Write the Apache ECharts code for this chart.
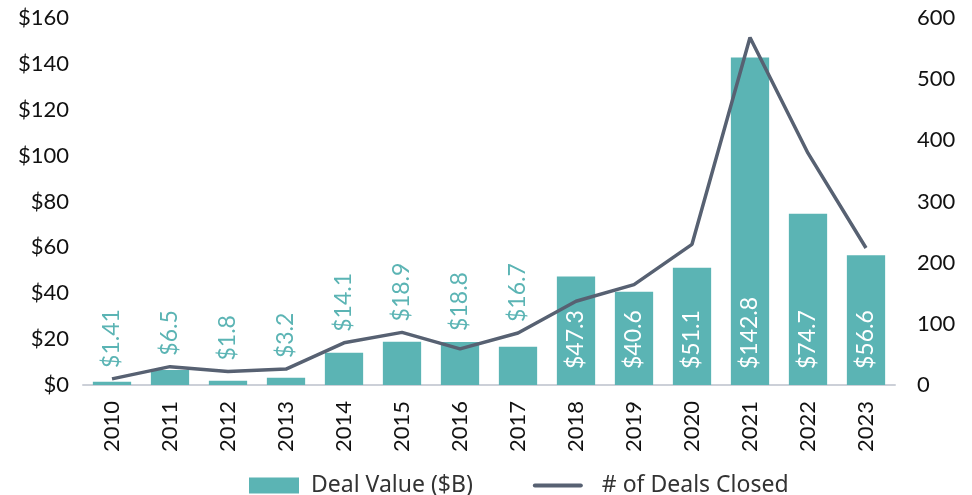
<!DOCTYPE html>
<html><head><meta charset="utf-8">
<script src="https://cdn.jsdelivr.net/npm/echarts@6/dist/echarts.min.js"></script>
<style>html,body{margin:0;padding:0;background:#fff}#c{width:972px;height:495px}</style>
</head><body><div id="c"></div>
<script>
const categories = ['2010','2011','2012','2013','2014','2015','2016','2017','2018','2019','2020','2021','2022','2023'];
const dealValue = [1.41, 6.5, 1.8, 3.2, 14.1, 18.9, 18.8, 16.7, 47.3, 40.6, 51.1, 142.8, 74.7, 56.6];
const dealLabels = ['$1.41','$6.5','$1.8','$3.2','$14.1','$18.9','$18.8','$16.7','$47.3','$40.6','$51.1','$142.8','$74.7','$56.6'];
const dealsClosed = [10, 30, 22, 26, 69, 86, 59, 85, 137, 164, 230, 568, 379, 224];
const leftTicks = [0, 20, 40, 60, 80, 100, 120, 140, 160];
const rightTicks = [0, 100, 200, 300, 400, 500, 600];

const TEAL = '#5BB4B4', LINE = '#576172', FONT = 'Lato';

function buildBarData(distances) {
  return dealValue.map((v, i) => {
    const inside = v > 30;
    return {
      value: v,
      label: inside
        ? {position: 'insideBottom', rotate: 90, align: 'left', verticalAlign: 'middle', distance: 16, color: '#fff'}
        : {position: 'top', rotate: 90, align: 'left', verticalAlign: 'middle', distance: distances ? distances[i] : 12, color: TEAL}
    };
  });
}

const chart = echarts.init(document.getElementById('c'));
chart.setOption({
  animation: false,
  grid: {left: 83, right: 77, top: 18, bottom: 110, containLabel: false},
  legend: {
    top: 469, left: 244, itemGap: 60, itemWidth: 50, itemHeight: 16,
    textStyle: {fontFamily: 'Noto Sans', fontSize: 23, color: '#333', padding: [0, 0, 0, 7]},
    data: [
      {name: 'Deal Value ($B)', icon: 'rect'},
      {name: '# of Deals Closed', icon: 'path://M2,6 L48,6 A2,2 0 0 1 48,10 L2,10 A2,2 0 0 1 2,6 Z',
       itemStyle: {color: LINE}, textStyle: {padding: [0, 0, 0, 14]}}
    ]
  },
  xAxis: {
    type: 'category', data: categories,
    axisLine: {lineStyle: {color: '#CCD0D8', width: 2}},
    axisTick: {show: false},
    axisLabel: {rotate: 90, fontFamily: FONT, fontSize: 22, color: '#111', margin: 16, interval: 0}
  },
  yAxis: [
    {type: 'value', min: 0, max: 160, interval: 20,
     splitLine: {show: false}, axisLine: {show: false}, axisTick: {show: false},
     axisLabel: {formatter: v => '$' + v, fontFamily: FONT, fontSize: 22, color: '#111', margin: 14}},
    {type: 'value', min: 0, max: 600, interval: 100,
     splitLine: {show: false}, axisLine: {show: false}, axisTick: {show: false},
     axisLabel: {fontFamily: FONT, fontSize: 22, color: '#111', margin: 22}}
  ],
  series: [
    {name: 'Deal Value ($B)', type: 'bar', yAxisIndex: 0, data: buildBarData(null),
     barCategoryGap: '34%', itemStyle: {color: TEAL},
     label: {show: true, fontFamily: FONT, fontSize: 23, formatter: p => dealLabels[p.dataIndex]}},
    {name: '# of Deals Closed', type: 'line', yAxisIndex: 1, data: dealsClosed,
     symbol: 'none', lineStyle: {color: LINE, width: 3.5}, itemStyle: {color: LINE}, z: 5}
  ]
});

// place outside labels just above whichever is higher: bar top or line point
const distances = dealValue.map((v, i) => {
  const barTop = chart.convertToPixel({xAxisIndex: 0, yAxisIndex: 0}, [i, v])[1];
  const lineY = chart.convertToPixel({xAxisIndex: 0, yAxisIndex: 1}, [i, dealsClosed[i]])[1];
  return Math.max(6, barTop - Math.min(barTop, lineY) + 11);
});
chart.setOption({series: [{data: buildBarData(distances)}]});
</script></body></html>
